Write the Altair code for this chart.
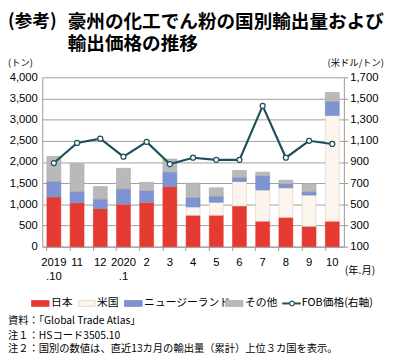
import altair as alt
import pandas as pd

months = ["2019.10", "11", "12", "2020.1", "2", "3", "4", "5", "6", "7", "8", "9", "10"]
japan = [1180, 1040, 900, 1010, 1050, 1420, 740, 740, 960, 600, 690, 480, 600]
usa = [0, 0, 0, 0, 0, 0, 200, 310, 580, 740, 700, 740, 2500]
nz = [360, 260, 220, 350, 270, 340, 220, 140, 90, 330, 90, 80, 330]
other = [590, 660, 300, 490, 200, 310, 340, 200, 170, 90, 90, 190, 210]
fob = [890, 1080, 1120, 950, 1090, 880, 940, 920, 920, 1430, 940, 1100, 1070]

series_names = ["日本", "米国", "ニュージーランド", "その他"]
series_colors = ["#e43a31", "#fbf5ee", "#7f93d2", "#b9b9b9"]
series_strokes = ["#e43a31", "#d8cfc4", "#6f82c0", "#a8a8a8"]
line_color = "#1f4f5c"

rows = []
for i, m in enumerate(months):
    for k, (name, vals) in enumerate(zip(series_names, [japan, usa, nz, other])):
        rows.append({"month": m, "series": name, "value": vals[i], "ord": k})
df = pd.DataFrame(rows)
df_line = pd.DataFrame({"month": months, "fob": fob})

W, H = 308, 173
FONT = "Liberation Sans"
JP = "Noto Sans CJK JP"

label_expr = ("datum.value == '2019.10' ? ['2019', '.10'] : "
              "datum.value == '2020.1' ? ['2020', '.1'] : datum.value")

x_enc = alt.X("month:N", sort=months, title=None,
              scale=alt.Scale(paddingInner=0.4, paddingOuter=0.2),
              axis=alt.Axis(labelExpr=label_expr, labelAngle=0, labelFont=FONT,
                            labelFontSize=11.5, labelColor="black", labelPadding=6,
                            labelLineHeight=15, labelBaseline="top",
                            domainColor="#999", tickColor="#999", tickSize=4,
                            bandPosition=0, grid=False))

bars = alt.Chart(df).mark_bar(strokeWidth=0.6).encode(
    x=x_enc,
    y=alt.Y("value:Q", stack="zero", title=None,
            scale=alt.Scale(domain=[0, 4000], nice=False),
            axis=alt.Axis(values=list(range(0, 4001, 500)), format=",d",
                          labelFont=FONT, labelFontSize=11.5, labelColor="black",
                          labelPadding=5, tickSize=0, domainColor="#999",
                          gridColor="#a0a0a0", gridWidth=1)),
    color=alt.Color("series:N", scale=alt.Scale(domain=series_names, range=series_colors), legend=None),
    stroke=alt.Stroke("series:N", scale=alt.Scale(domain=series_names, range=series_strokes), legend=None),
    order=alt.Order("ord:Q"),
)

line = alt.Chart(df_line).mark_line(
    color=line_color, strokeWidth=2.2,
    point=alt.OverlayMarkDef(filled=True, fill="white", stroke=line_color, strokeWidth=1.3, size=26),
).encode(
    x=alt.X("month:N", sort=months),
    y=alt.Y("fob:Q", title=None, scale=alt.Scale(domain=[100, 1700], nice=False),
            axis=alt.Axis(orient="right", values=list(range(100, 1701, 200)), format=",d",
                          labelFont=FONT, labelFontSize=11.5, labelColor="black",
                          labelPadding=2, tickSize=4, tickColor="#999",
                          domainColor="#999", grid=False)),
)


def txt(s, x, y, size=11, weight="normal", font=JP, align="left"):
    return alt.Chart(pd.DataFrame({"t": [s]})).mark_text(
        align=align, baseline="middle", font=font, fontSize=size, fontWeight=weight,
        color="black").encode(text="t:N", x=alt.value(x), y=alt.value(y))


def rect(x1, x2, y1, y2, fill, stroke):
    return alt.Chart(pd.DataFrame({"a": [0]})).mark_rect(
        fill=fill, stroke=stroke, strokeWidth=0.7).encode(
        x=alt.value(x1), x2=alt.value(x2), y=alt.value(y1), y2=alt.value(y2))


OX, OY = 43, 75  # page position of plot origin

def P(px, py):
    return px - OX, py - OY

annots = []
# titles
annots.append(txt("(参考)", *P(8, 19), size=18, weight="bold"))
annots.append(txt("豪州の化工でん粉の国別輸出量および", *P(69, 19), size=19, weight="bold"))
annots.append(txt("輸出価格の推移", *P(69, 41), size=19, weight="bold"))
# units
annots.append(txt("(トン)", *P(8, 61), size=9.5))
annots.append(txt("(米ドル/トン)", *P(392, 61), size=9.5, align="right"))
annots.append(txt("(年.月)", *P(352, 273), size=10.5))
# legend
ly = 306
legend_items = [
    (32, 50, series_colors[0], series_strokes[0], "日本", 52),
    (80, 97, series_colors[1], series_strokes[1], "米国", 99),
    (127, 145, series_colors[2], series_strokes[2], "ニュージーランド", 147),
    (230, 248, series_colors[3], series_strokes[3], "その他", 250),
]
for x1, x2, f, s, lab, tx in legend_items:
    a1, b1 = P(x1, ly - 3)
    a2, b2 = P(x2, ly + 3)
    annots.append(rect(a1, a2, b1, b2, f, s))
    annots.append(txt(lab, *P(tx, ly), size=11))

lx1, _ = P(288, ly)
lx2, lyy = P(307, ly)
annots.append(alt.Chart(pd.DataFrame({"a": [0]})).mark_rule(color=line_color, strokeWidth=2).encode(
    x=alt.value(lx1), x2=alt.value(lx2), y=alt.value(lyy)))
annots.append(alt.Chart(pd.DataFrame({"a": [0]})).mark_point(
    filled=True, fill="white", stroke=line_color, strokeWidth=1.2, size=22, opacity=1).encode(
    x=alt.value(P(298, ly)[0]), y=alt.value(lyy)))
annots.append(txt("FOB価格(右軸)", *P(308, ly), size=11))
# notes
annots.append(txt("資料：「Global Trade Atlas」", *P(8, 324), size=10.5))
annots.append(txt("注１：HSコード3505.10", *P(8, 339), size=10.5))
annots.append(txt("注２：国別の数値は、直近13カ月の輸出量（累計）上位３カ国を表示。", *P(8, 353), size=10.5))

main = alt.layer(bars, line).resolve_scale(y="independent")
chart = alt.layer(main, *annots).properties(
    width=W, height=H,
    autosize=alt.AutoSizeParams(type="none"),
    padding={"left": OX - 8, "top": OY - 8, "right": 393 - OX - W, "bottom": 352 - (OY - 8) - H},
).configure_view(stroke=None)

chart.save("out.html", embed_options={"renderer": "svg", "actions": False})
